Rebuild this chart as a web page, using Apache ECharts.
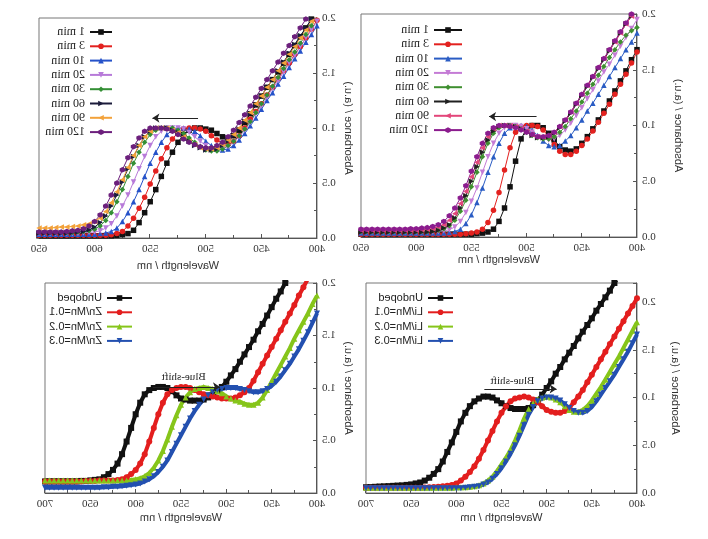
<!DOCTYPE html>
<html>
<head>
<meta charset="utf-8">
<script src="https://cdn.jsdelivr.net/npm/echarts@6/dist/echarts.min.js"></script>
<style>
  html, body { margin: 0; background: #fff; }
  /* the reference figure is a mirror image, so the whole chart is flipped */
  #chart { width: 708px; height: 539px; transform: scaleX(-1); }
</style>
</head>
<body>
<div id="chart"></div>
<script>
// wavelengths (nm)
const wlTop = [400,405,410,415,420,425,430,435,440,445,450,455,460,465,470,475,480,485,490,495,500,505,510,515,520,525,530,535,540,545,550,555,560,565,570,575,580,585,590,595,600,605,610,615,620,625,630,635,640,645,650]
const wlBottom = [400,405,410,415,420,425,430,435,440,445,450,455,460,465,470,475,480,485,490,495,500,505,510,515,520,525,530,535,540,545,550,555,560,565,570,575,580,585,590,595,600,605,610,615,620,625,630,635,640,645,650,655,660,665,670,675,680,685,690,695,700]

const timeNames = ['1 min', '3 min', '10 min', '20 min', '30 min', '60 min', '90 min', '120 min']
const dopeNamesZn = ['Undoped', 'Zn/Mn=0.1', 'Zn/Mn=0.2', 'Zn/Mn=0.3']
const dopeNamesLi = ['Undoped', 'Li/Mn=0.1', 'Li/Mn=0.2', 'Li/Mn=0.3']
const xTicksTop = [400, 450, 500, 550, 600, 650]
const xTicksBottom = [400, 450, 500, 550, 600, 650, 700]
const yTicks = [0, 0.5, 1, 1.5, 2]

// panel with the orange 90 min curve
const a1 = [2.06,1.99,1.91,1.83,1.75,1.67,1.59,1.51,1.44,1.37,1.29,1.21,1.13,1.05,0.98,0.93,0.91,0.92,0.95,0.98,0.99,1.00,1.00,0.98,0.94,0.87,0.78,0.68,0.56,0.44,0.33,0.23,0.14,0.07,0.04,0.03,0.025,0.02,0.02,0.02,0.02,0.02,0.02,0.02,0.02,0.02,0.02,0.02,0.02,0.02,0.02]
const a3 = [1.98,1.90,1.82,1.74,1.67,1.59,1.52,1.45,1.37,1.30,1.22,1.15,1.08,1.00,0.93,0.88,0.85,0.86,0.89,0.93,0.97,0.99,1.00,1.00,0.99,0.96,0.90,0.82,0.72,0.61,0.49,0.37,0.27,0.18,0.11,0.06,0.04,0.03,0.025,0.025,0.025,0.025,0.025,0.025,0.025,0.025,0.025,0.025,0.025,0.025,0.025]
const a10 = [1.93,1.85,1.78,1.70,1.63,1.55,1.47,1.40,1.32,1.25,1.17,1.09,1.02,0.95,0.89,0.84,0.81,0.80,0.81,0.84,0.88,0.93,0.97,0.99,1.00,1.00,0.98,0.94,0.87,0.78,0.68,0.56,0.44,0.33,0.23,0.15,0.09,0.06,0.045,0.04,0.035,0.035,0.035,0.035,0.035,0.035,0.035,0.035,0.035,0.035,0.035]
const a20 = [1.97,1.89,1.82,1.74,1.66,1.59,1.51,1.43,1.36,1.28,1.20,1.13,1.05,0.98,0.92,0.87,0.83,0.81,0.80,0.81,0.84,0.88,0.92,0.96,0.99,1.00,1.00,1.00,0.97,0.92,0.84,0.74,0.63,0.51,0.39,0.29,0.20,0.13,0.09,0.065,0.055,0.05,0.045,0.04,0.04,0.04,0.04,0.04,0.04,0.04,0.04]
const a30 = [2.01,1.93,1.85,1.77,1.69,1.62,1.54,1.46,1.38,1.30,1.22,1.14,1.06,0.99,0.93,0.88,0.84,0.81,0.79,0.79,0.80,0.83,0.87,0.91,0.95,0.98,1.00,1.00,1.00,0.98,0.94,0.87,0.78,0.68,0.56,0.44,0.33,0.23,0.16,0.11,0.08,0.065,0.06,0.055,0.05,0.05,0.05,0.05,0.05,0.05,0.05]
const a60 = [2.07,1.99,1.91,1.84,1.76,1.68,1.60,1.52,1.44,1.37,1.29,1.21,1.13,1.06,0.99,0.93,0.88,0.84,0.81,0.80,0.80,0.82,0.84,0.88,0.92,0.96,0.98,1.00,1.00,1.00,0.97,0.92,0.84,0.74,0.63,0.51,0.39,0.29,0.20,0.14,0.10,0.075,0.06,0.055,0.05,0.045,0.045,0.045,0.045,0.045,0.045]
const a90 = [2.04,1.97,1.89,1.82,1.74,1.67,1.59,1.52,1.44,1.37,1.29,1.22,1.14,1.07,1.00,0.94,0.89,0.85,0.82,0.81,0.81,0.82,0.85,0.88,0.92,0.96,0.98,1.00,1.00,1.00,0.97,0.92,0.84,0.75,0.64,0.53,0.42,0.32,0.24,0.18,0.15,0.13,0.12,0.11,0.105,0.10,0.10,0.095,0.09,0.09,0.09]
const a120 = [2.15,2.07,1.99,1.91,1.83,1.75,1.68,1.60,1.52,1.44,1.36,1.28,1.20,1.12,1.05,0.98,0.92,0.87,0.84,0.82,0.82,0.83,0.85,0.87,0.90,0.94,0.97,0.99,1.00,1.00,1.00,0.97,0.91,0.83,0.73,0.62,0.50,0.39,0.29,0.21,0.15,0.11,0.085,0.07,0.065,0.06,0.055,0.055,0.055,0.055,0.055]

// panel with the pink 90 min curve
const b1 = [1.68,1.59,1.49,1.40,1.31,1.22,1.13,1.05,0.97,0.90,0.84,0.79,0.77,0.78,0.81,0.87,0.93,0.98,1.00,1.00,0.97,0.88,0.68,0.45,0.26,0.14,0.07,0.045,0.035,0.03,0.025,0.025,0.025,0.025,0.025,0.025,0.025,0.025,0.025,0.025,0.025,0.025,0.025,0.025,0.025,0.025,0.025,0.025,0.025,0.025,0.025]
const b3 = [1.66,1.56,1.46,1.37,1.28,1.19,1.11,1.03,0.95,0.88,0.82,0.77,0.74,0.74,0.77,0.83,0.90,0.96,0.99,1.00,1.00,0.99,0.94,0.80,0.60,0.40,0.24,0.13,0.07,0.045,0.035,0.03,0.025,0.025,0.025,0.025,0.025,0.025,0.025,0.025,0.025,0.025,0.025,0.025,0.025,0.025,0.025,0.025,0.025,0.025,0.025]
const b10 = [1.83,1.75,1.68,1.60,1.52,1.44,1.36,1.28,1.20,1.13,1.05,0.98,0.91,0.86,0.82,0.81,0.82,0.86,0.91,0.96,0.99,1.00,1.00,0.98,0.93,0.84,0.72,0.58,0.44,0.31,0.20,0.12,0.07,0.05,0.04,0.035,0.035,0.035,0.035,0.035,0.035,0.035,0.035,0.035,0.035,0.035,0.035,0.035,0.035,0.035,0.035]
const b20 = [1.95,1.87,1.79,1.71,1.63,1.55,1.48,1.40,1.32,1.24,1.16,1.09,1.02,0.96,0.91,0.88,0.87,0.88,0.90,0.94,0.97,0.99,1.00,1.00,0.98,0.93,0.84,0.72,0.58,0.44,0.32,0.22,0.14,0.09,0.065,0.055,0.05,0.045,0.045,0.045,0.045,0.045,0.045,0.045,0.045,0.045,0.045,0.045,0.045,0.045,0.045]
const b30 = [1.88,1.85,1.81,1.75,1.68,1.61,1.53,1.45,1.37,1.29,1.21,1.13,1.06,0.99,0.94,0.90,0.88,0.88,0.89,0.91,0.94,0.97,0.99,1.00,1.00,0.98,0.93,0.84,0.72,0.58,0.45,0.33,0.23,0.15,0.10,0.075,0.06,0.055,0.05,0.05,0.05,0.05,0.05,0.05,0.05,0.05,0.05,0.05,0.05,0.05,0.05]
const b60 = [2.05,1.98,1.91,1.83,1.75,1.67,1.59,1.51,1.43,1.35,1.27,1.19,1.11,1.04,0.98,0.93,0.90,0.89,0.89,0.91,0.94,0.97,0.99,1.00,1.00,0.99,0.95,0.87,0.76,0.63,0.50,0.37,0.26,0.17,0.11,0.08,0.06,0.05,0.045,0.045,0.045,0.045,0.045,0.045,0.045,0.045,0.045,0.045,0.045,0.045,0.045]
const b90 = [2.06,1.98,1.91,1.83,1.75,1.68,1.60,1.52,1.44,1.36,1.28,1.20,1.12,1.05,0.99,0.94,0.91,0.90,0.90,0.92,0.95,0.97,0.99,1.00,1.00,1.00,0.97,0.90,0.80,0.67,0.54,0.41,0.30,0.21,0.15,0.11,0.09,0.075,0.07,0.065,0.06,0.06,0.06,0.06,0.06,0.06,0.06,0.06,0.06,0.06,0.06]
const b120 = [2.08,2.00,1.92,1.84,1.76,1.68,1.60,1.52,1.44,1.36,1.28,1.20,1.12,1.05,0.99,0.94,0.91,0.90,0.90,0.92,0.94,0.96,0.98,0.99,1.00,1.00,0.98,0.93,0.84,0.72,0.59,0.46,0.35,0.26,0.19,0.14,0.11,0.095,0.085,0.08,0.075,0.075,0.07,0.07,0.07,0.07,0.07,0.07,0.07,0.07,0.07]

// Zn doped panel
const cUndoped = [2.56,2.48,2.40,2.32,2.24,2.16,2.08,2.00,1.92,1.85,1.77,1.69,1.61,1.54,1.46,1.39,1.32,1.25,1.18,1.12,1.06,1.01,0.97,0.93,0.91,0.89,0.88,0.88,0.88,0.89,0.90,0.93,0.97,1.00,1.01,1.01,1.00,0.98,0.94,0.86,0.75,0.62,0.49,0.37,0.28,0.22,0.18,0.15,0.13,0.125,0.12,0.115,0.115,0.11,0.11,0.11,0.11,0.11,0.11,0.11,0.11]
const cZn1 = [2.20,2.12,2.04,1.96,1.88,1.79,1.71,1.63,1.55,1.47,1.39,1.31,1.23,1.15,1.07,1.00,0.96,0.93,0.91,0.90,0.90,0.90,0.91,0.92,0.93,0.94,0.96,0.98,1.00,1.01,1.01,1.00,0.98,0.94,0.86,0.75,0.62,0.49,0.37,0.28,0.22,0.18,0.15,0.13,0.125,0.12,0.12,0.12,0.12,0.115,0.115,0.115,0.11,0.11,0.11,0.11,0.11,0.11,0.11,0.11,0.11]
const cZn2 = [1.88,1.80,1.71,1.63,1.55,1.47,1.38,1.30,1.22,1.14,1.06,0.98,0.91,0.86,0.84,0.84,0.85,0.87,0.88,0.90,0.92,0.95,0.97,0.99,1.00,1.01,1.00,0.99,0.96,0.91,0.84,0.74,0.63,0.51,0.40,0.31,0.24,0.19,0.16,0.14,0.13,0.125,0.12,0.12,0.12,0.12,0.12,0.12,0.12,0.12,0.12,0.12,0.12,0.12,0.12,0.12,0.12,0.12,0.12,0.12,0.12]
const cZn3 = [1.71,1.62,1.53,1.45,1.37,1.30,1.23,1.17,1.11,1.06,1.02,0.99,0.97,0.96,0.96,0.97,0.98,0.99,1.00,1.00,1.00,0.99,0.98,0.96,0.93,0.89,0.84,0.78,0.71,0.63,0.55,0.47,0.39,0.31,0.25,0.20,0.16,0.13,0.11,0.09,0.08,0.075,0.07,0.065,0.06,0.06,0.055,0.055,0.05,0.05,0.05,0.05,0.05,0.05,0.05,0.05,0.05,0.05,0.05,0.05,0.05]

// Li doped panel
const dUndoped = [2.56,2.49,2.42,2.34,2.27,2.20,2.12,2.05,1.98,1.91,1.83,1.76,1.69,1.62,1.54,1.47,1.40,1.32,1.25,1.17,1.10,1.03,0.97,0.92,0.89,0.88,0.88,0.88,0.89,0.91,0.94,0.97,1.00,1.01,1.01,0.99,0.96,0.91,0.84,0.75,0.64,0.53,0.43,0.33,0.25,0.20,0.16,0.13,0.11,0.10,0.09,0.085,0.08,0.078,0.075,0.072,0.07,0.068,0.065,0.062,0.06]
const dLi1 = [2.04,1.96,1.88,1.80,1.72,1.64,1.56,1.48,1.40,1.32,1.24,1.16,1.08,1.01,0.95,0.89,0.86,0.84,0.84,0.85,0.87,0.91,0.95,0.98,1.00,1.01,1.00,0.99,0.96,0.91,0.84,0.75,0.65,0.55,0.45,0.36,0.28,0.22,0.17,0.13,0.10,0.085,0.075,0.07,0.065,0.062,0.06,0.058,0.055,0.055,0.055,0.055,0.055,0.055,0.055,0.055,0.055,0.055,0.055,0.055,0.055]
const dLi2 = [1.79,1.70,1.61,1.52,1.43,1.35,1.27,1.19,1.11,1.04,0.97,0.91,0.87,0.85,0.85,0.87,0.91,0.95,0.98,1.00,1.01,1.00,0.98,0.94,0.88,0.78,0.66,0.55,0.45,0.37,0.30,0.23,0.17,0.13,0.10,0.08,0.07,0.065,0.06,0.06,0.06,0.055,0.055,0.055,0.055,0.055,0.055,0.055,0.055,0.055,0.055,0.055,0.055,0.055,0.055,0.055,0.055,0.055,0.055,0.055,0.055]
const dLi3 = [1.66,1.57,1.48,1.40,1.32,1.24,1.17,1.10,1.03,0.96,0.90,0.86,0.84,0.84,0.86,0.89,0.93,0.97,0.99,1.00,1.00,0.99,0.96,0.90,0.82,0.71,0.60,0.50,0.41,0.33,0.26,0.20,0.15,0.11,0.09,0.07,0.065,0.06,0.055,0.05,0.05,0.05,0.05,0.05,0.05,0.05,0.05,0.05,0.05,0.05,0.05,0.05,0.05,0.05,0.05,0.05,0.05,0.05,0.05,0.05,0.05]

const serif = '"Liberation Serif", "DejaVu Serif", serif'
const sans = '"Liberation Sans", Arial, sans-serif'
const hex = 'path://M0,-10L8.66,-5L8.66,5L0,10L-8.66,5L-8.66,-5Z'

// symbol, rotation for each curve
const timeMarks = [['rect', 0], ['circle', 0], ['triangle', 0], ['triangle', 180], ['diamond', 0], ['triangle', 90], ['triangle', -90], [hex, 0]]
const doseMarks = [['rect', 0], ['circle', 0], ['triangle', 0], ['triangle', 180]]

const colorsA = ['#111111', '#e3211f', '#2552c9', '#b77ad9', '#348f35', '#1b1b3a', '#f3a23a', '#6c1f7c']
const colorsB = ['#111111', '#e3211f', '#2a5cc4', '#c47bd5', '#3f8f30', '#202020', '#e3467a', '#8b1c8e']
const colorsDose = ['#111111', '#e31e1e', '#86c51a', '#2350b0']

const line = (grid, name, wl, vals, color, mark, size, width) => ({
  type: 'line',
  name,
  xAxisIndex: grid,
  yAxisIndex: grid,
  data: wl.map((w, i) => [w, vals[i]]),
  symbol: mark[0],
  symbolRotate: mark[1],
  symbolSize: size,
  lineStyle: { color, width },
  itemStyle: { color },
  emphasis: { disabled: true },
  animation: false
})

const arrow = (from, to) => ({
  silent: true,
  symbol: ['none', 'arrow'],
  symbolSize: 7,
  lineStyle: { color: '#222', width: 1, type: 'solid' },
  label: { show: false },
  data: [[{ coord: from }, { coord: to }]],
  animation: false
})

const note = (text, at) => ({
  silent: true,
  symbol: 'rect',
  symbolSize: 1,
  itemStyle: { color: 'rgba(0,0,0,0)' },
  label: { show: true, position: 'inside', formatter: text, fontFamily: serif, fontSize: 11, color: '#222' },
  data: [{ coord: at }],
  animation: false
})

const xAxis = (grid, ticks, gap) => ({
  type: 'value',
  gridIndex: grid,
  min: ticks[0],
  max: ticks[ticks.length - 1],
  interval: 50,
  name: 'Wavelength / nm',
  nameLocation: 'middle',
  nameGap: gap,
  nameTextStyle: { fontFamily: sans, fontSize: 11, color: '#333' },
  axisLine: { lineStyle: { color: '#555' } },
  axisTick: { inside: true, length: 4, lineStyle: { color: '#555' } },
  minorTick: { show: true, splitNumber: 2, length: 3, lineStyle: { color: '#555' } },
  axisLabel: { fontFamily: serif, fontSize: 11, color: '#333', margin: 6 },
  splitLine: { show: false }
})

const yAxis = (grid, max, gap) => ({
  type: 'value',
  gridIndex: grid,
  min: yTicks[0],
  max,
  interval: 0.5,
  name: 'Absorbance / (a.u.)',
  nameLocation: 'middle',
  nameGap: gap,
  nameTextStyle: { fontFamily: sans, fontSize: 11, color: '#333' },
  axisLine: { lineStyle: { color: '#555' } },
  axisTick: { inside: true, length: 4, lineStyle: { color: '#555' } },
  minorTick: { show: true, splitNumber: 2, length: 3, lineStyle: { color: '#555' } },
  axisLabel: {
    fontFamily: serif, fontSize: 11, color: '#333', margin: 5,
    formatter: v => (yTicks.includes(v) ? v.toFixed(1) : '')
  },
  splitLine: { show: false }
})

const legend = (names, left, top, width, font, size) => ({
  orient: 'vertical',
  left,
  top,
  itemWidth: width,
  itemHeight: 7,
  itemGap: 2.3,
  selectedMode: false,
  data: names,
  formatter: n => n.split(':')[1],
  textStyle: { fontFamily: font, fontSize: size, color: '#222', lineHeight: 12 }
})

const setA = [a1, a3, a10, a20, a30, a60, a90, a120]
const setB = [b1, b3, b10, b20, b30, b60, b90, b120]
const setC = [cUndoped, cZn1, cZn2, cZn3]
const setD = [dUndoped, dLi1, dLi2, dLi3]

const namesA = timeNames.map(n => 'a:' + n)
const namesB = timeNames.map(n => 'b:' + n)
const namesC = dopeNamesZn.map(n => 'c:' + n)
const namesD = dopeNamesLi.map(n => 'd:' + n)

const series = [
  ...setA.map((v, i) => line(0, namesA[i], wlTop, v, colorsA[i], timeMarks[i], 5.5, 1)),
  ...setB.map((v, i) => line(1, namesB[i], wlTop, v, colorsB[i], timeMarks[i], 5.5, 1)),
  ...setC.map((v, i) => line(2, namesC[i], wlBottom, v, colorsDose[i], doseMarks[i], 6, 4)),
  ...setD.map((v, i) => line(3, namesD[i], wlBottom, v, colorsDose[i], doseMarks[i], 6, 4))
]

series[0].markLine = arrow([507, 1.09], [548, 1.09])
series[8].markLine = arrow([491, 1.08], [534, 1.08])
series[16].markLine = arrow([581, 1.01], [507, 1.01])
series[16].markPoint = note('Blue-shift', [547, 1.1])
series[20].markLine = arrow([569, 1.09], [489, 1.09])
series[20].markPoint = note('Blue-shift', [538, 1.17])

const gridStyle = { show: true, borderColor: '#777', borderWidth: 1, backgroundColor: 'transparent' }

const chart = echarts.init(document.getElementById('chart'))
chart.setOption({
  backgroundColor: '#fff',
  animation: false,
  grid: [
    { ...gridStyle, left: 391, top: 18, width: 278, height: 220 },
    { ...gridStyle, left: 71, top: 14, width: 276, height: 223 },
    { ...gridStyle, left: 391, top: 283, width: 272, height: 210 },
    { ...gridStyle, left: 71, top: 283, width: 271, height: 210 }
  ],
  xAxis: [
    xAxis(0, xTicksTop, 22),
    xAxis(1, xTicksTop, 16),
    xAxis(2, xTicksBottom, 19),
    xAxis(3, xTicksBottom, 19)
  ],
  yAxis: [
    yAxis(0, 2, 26),
    yAxis(1, 2, 36),
    yAxis(2, 2, 26),
    yAxis(3, 2.2, 33)
  ],
  legend: [
    legend(namesA, 590, 21, 22, serif, 12),
    legend(namesB, 240, 19, 28, serif, 12),
    legend(namesC, 570, 287, 25, sans, 11),
    legend(namesD, 249, 287, 25, sans, 11)
  ],
  series
})
</script>
</body>
</html>
